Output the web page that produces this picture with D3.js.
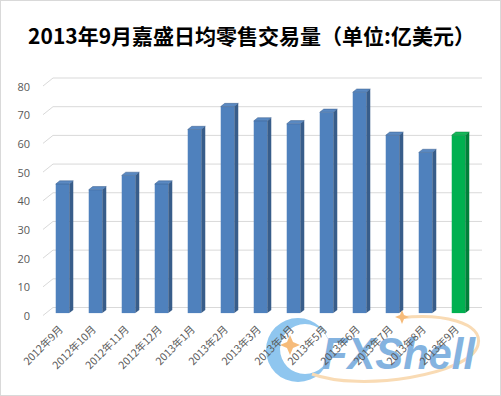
<!DOCTYPE html>
<html>
<head>
<meta charset="utf-8">
<script src="https://cdn.jsdelivr.net/npm/d3@7/dist/d3.min.js"></script>
<style>
  body { margin: 0; background: #fff; }
  svg { display: block; }
</style>
</head>
<body>
<svg width="501" height="396"></svg>
<script>
var categories = ["2012年9月", "2012年10月", "2012年11月", "2012年12月", "2013年1月", "2013年2月",
                  "2013年3月", "2013年4月", "2013年5月", "2013年6月", "2013年7月", "2013年8月", "2013年9月"];
var volumes = [45, 43, 48, 45, 64, 72, 67, 66, 70, 77, 62, 56, 62];
var yTicks = [0, 10, 20, 30, 40, 50, 60, 70, 80];
var highlight = "2013年9月";

var svg = d3.select("svg"),
    width = +svg.attr("width"),
    height = +svg.attr("height");

// 3D depth offsets (front plane -> back wall)
var depthX = 10, depthY = -8;

var x = d3.scaleBand()
    .domain(categories)
    .range([43, 472])
    .paddingInner(0.59)
    .paddingOuter(0.295);

var y = d3.scaleLinear()
    .domain([0, 80])
    .range([315.5, 86]);

svg.append("rect")
    .attr("x", 0.5).attr("y", 0.5)
    .attr("width", width - 1).attr("height", height - 1)
    .attr("fill", "#fff")
    .attr("stroke", "#d9d9d9");

svg.append("text")
    .attr("x", width / 2 + 1)
    .attr("y", 35)
    .attr("text-anchor", "middle")
    .attr("dominant-baseline", "central")
    .style("font-family", "'Noto Sans CJK SC', sans-serif")
    .style("font-weight", "bold")
    .style("font-size", "21px")
    .attr("fill", "#000")
    .text("2013年9月嘉盛日均零售交易量（单位:亿美元）");

// gridlines on the back wall plus the left diagonals
var grid = svg.append("g").attr("stroke", "#d9d9d9").attr("fill", "none");
yTicks.forEach(function(t) {
  grid.append("line")
      .attr("x1", 43 + depthX).attr("x2", 472 + depthX)
      .attr("y1", y(t) + depthY).attr("y2", y(t) + depthY);
  grid.append("line")
      .attr("x1", 43).attr("x2", 43 + depthX)
      .attr("y1", y(t)).attr("y2", y(t) + depthY);
});

// y-axis labels
svg.append("g").selectAll("text")
    .data(yTicks)
    .enter().append("text")
    .attr("x", 30)
    .attr("y", function(d) { return y(d); })
    .attr("text-anchor", "end")
    .attr("dominant-baseline", "central")
    .style("font-family", "'Open Sans', 'DejaVu Sans', sans-serif")
    .style("font-size", "11px")
    .attr("fill", "#595959")
    .text(function(d) { return d; });

// bars: front face sits 30% into the depth, back face at 70%
var f0 = 0.3, f1 = 0.7;
var bars = svg.append("g").selectAll("g")
    .data(categories.map(function(c, i) { return { cat: c, v: volumes[i] }; }))
    .enter().append("g");

function col(d, part) {
  var green = d.cat === highlight;
  if (part === "front") return green ? "#00b050" : "#4f81bd";
  if (part === "side") return green ? "#00803a" : "#385d8a";
  return green ? "#16b85a" : "#5a89c2";
}

bars.each(function(d) {
  var g = d3.select(this);
  var x0 = x(d.cat) + f0 * depthX,
      x1 = x0 + x.bandwidth(),
      yt = y(d.v) + f0 * depthY,
      yb = y(0) + f0 * depthY,
      dx = (f1 - f0) * depthX,
      dy = (f1 - f0) * depthY;
  g.append("rect")
      .attr("x", x0).attr("y", yt)
      .attr("width", x1 - x0).attr("height", yb - yt)
      .attr("fill", col(d, "front"));
  g.append("path")
      .attr("d", "M" + x1 + "," + yt + "L" + (x1 + dx) + "," + (yt + dy) +
                 "L" + (x1 + dx) + "," + (yb + dy) + "L" + x1 + "," + yb + "Z")
      .attr("fill", col(d, "side"));
  g.append("path")
      .attr("d", "M" + x0 + "," + yt + "L" + x1 + "," + yt +
                 "L" + (x1 + dx) + "," + (yt + dy) + "L" + (x0 + dx) + "," + (yt + dy) + "Z")
      .attr("fill", col(d, "top"))
      .attr("stroke", col(d, "side"))
      .attr("stroke-width", 0.5);
});

// watermark logo (drawn under the labels)
var wm = svg.append("g").attr("opacity", 0.75);
wm.append("path")
    .attr("d", "M 266,350 a 32 32 0 1 0 64 0 a 32 32 0 1 0 -64 0 Z " +
               "M 280,349 a 25 25 0 1 0 50 0 a 25 25 0 1 0 -50 0 Z")
    .attr("fill-rule", "evenodd")
    .attr("fill", "#6ab4ea");
wm.append("path")
    .attr("d", "M 312,374 C 360,392 470,375 478,345 C 484,322 440,313 400,318")
    .attr("fill", "none")
    .attr("stroke", "#f8cf9c")
    .attr("stroke-width", 3);
wm.append("path")
    .attr("d", "M 290,335 L 293,342 L 300,345 L 293,348 L 290,355 L 287,348 L 280,345 L 287,342 Z")
    .attr("fill", "#f4a54e");
wm.append("path")
    .attr("d", "M 402,310 L 404,315 L 409,317 L 404,319 L 402,324 L 400,319 L 395,317 L 400,315 Z")
    .attr("fill", "#f4a54e");
wm.append("text")
    .attr("x", 322)
    .attr("y", 369)
    .attr("textLength", 153)
    .attr("lengthAdjust", "spacingAndGlyphs")
    .style("font-family", "'Liberation Sans', sans-serif")
    .style("font-weight", "bold")
    .style("font-style", "italic")
    .style("font-size", "44px")
    .attr("fill", "#5b9ad6")
    .text("FXShell");

// x labels, rotated
svg.append("g").selectAll("text")
    .data(categories)
    .enter().append("text")
    .attr("transform", function(d) {
      return "translate(" + (x(d) + x.bandwidth() / 2 + 1) + "," + 327 + ") rotate(-45)";
    })
    .attr("text-anchor", "end")
    .attr("dominant-baseline", "central")
    .style("font-family", "'Noto Sans CJK SC', sans-serif")
    .style("font-size", "10.5px")
    .attr("fill", "#595959")
    .text(function(d) { return d; });
</script>
</body>
</html>
